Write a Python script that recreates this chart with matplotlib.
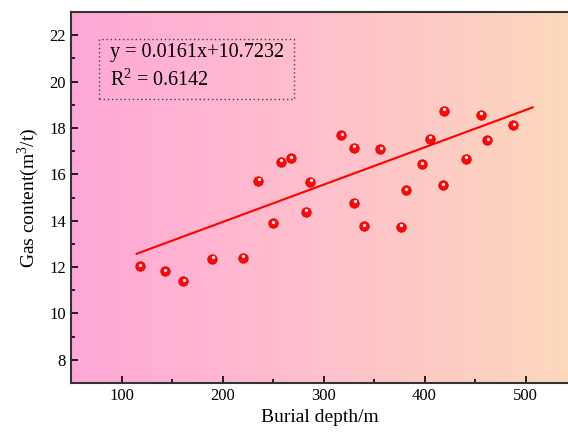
import numpy as np
import matplotlib
matplotlib.use('Agg')
import matplotlib.pyplot as plt
from matplotlib.colors import LinearSegmentedColormap
from matplotlib.patches import Rectangle
from matplotlib.ticker import MultipleLocator
import matplotlib.transforms as mtransforms

plt.rcParams['font.family'] = ['Liberation Serif', 'DejaVu Serif']
plt.rcParams['mathtext.fontset'] = 'custom'
plt.rcParams['mathtext.rm'] = 'Liberation Serif'

depth = [118, 142.6, 161, 189.7, 220, 235.6, 249.5, 257.4, 267.3, 282.5, 287,
         317.4, 330, 330.3, 339.9, 356, 376.5, 381.5, 397.3, 405.2, 418.8,
         417.8, 440.6, 455.7, 462, 487.7]
gas = [12.04, 11.81, 11.39, 12.36, 12.40, 15.72, 13.89, 16.55, 16.69, 14.39, 15.67,
       17.69, 17.15, 14.77, 13.77, 17.09, 13.73, 15.32, 16.43, 17.53, 18.75,
       15.52, 16.68, 18.56, 17.46, 18.12]

slope, intercept = 0.0161, 10.7232
fit_range = [115, 507]
bg_colors = ['#FFA8D8', '#FFC0CC', '#FCD8BC']

fig = plt.figure(figsize=(5.68, 4.32), dpi=100)
ax = fig.add_axes([0.125, 0.1134, 0.875, 0.8588])
ax.set_xlim(50, 542)
ax.set_ylim(7, 23)

# gradient background
cmap = LinearSegmentedColormap.from_list('bg', bg_colors)
grad = np.linspace(0, 1, 256).reshape(1, -1)
ax.imshow(grad, cmap=cmap, aspect='auto', extent=[50, 542, 7, 23], zorder=0)

xf = np.array(fit_range)
ax.plot(xf, slope * xf + intercept, color='#FF0000', lw=1.5, zorder=2)

# "3d" balls: red disc + small white highlight
ax.plot(depth, gas, 'o', color='#FF0808', markeredgecolor='#D80000',
        markeredgewidth=0.6, markersize=6.8, zorder=3)
hl = mtransforms.offset_copy(ax.transData, fig=fig, x=0.4, y=1.1, units='points')
ax.plot(depth, gas, 'o', color='#FFE8E8', markeredgewidth=0, markersize=2.4,
        transform=hl, zorder=4)

# equation box
ax.add_patch(Rectangle((0.0563, 0.765), 0.393, 0.162, transform=ax.transAxes,
                       fill=False, ls=(0, (1, 2)), lw=1, ec='#444444', zorder=5))
ax.text(0.0785, 0.892, 'y = 0.0161x+10.7232', transform=ax.transAxes,
        fontsize=14.5, va='center', ha='left', zorder=6)
ax.text(0.0785, 0.817, 'R$^2$ = 0.6142', transform=ax.transAxes,
        fontsize=14.5, va='center', ha='left', zorder=6)

ax.xaxis.set_major_locator(MultipleLocator(100))
ax.xaxis.set_minor_locator(MultipleLocator(50))
ax.yaxis.set_major_locator(MultipleLocator(2))
ax.yaxis.set_minor_locator(MultipleLocator(1))
ax.tick_params(which='both', direction='in', labelsize=12, width=1.2)
ax.tick_params(which='major', length=5)
ax.tick_params(which='minor', length=3)
ax.tick_params(right=False, top=False, which='both')

for s in ['left', 'bottom', 'top']:
    ax.spines[s].set_linewidth(1.5)
    ax.spines[s].set_color('#333333')
ax.spines['right'].set_visible(False)

ax.set_xlabel('Burial depth/m', fontsize=14, labelpad=4)
ax.set_ylabel('Gas content(m$^3$/t)', fontsize=14, labelpad=6)

fig.savefig('out.png', dpi=100)
